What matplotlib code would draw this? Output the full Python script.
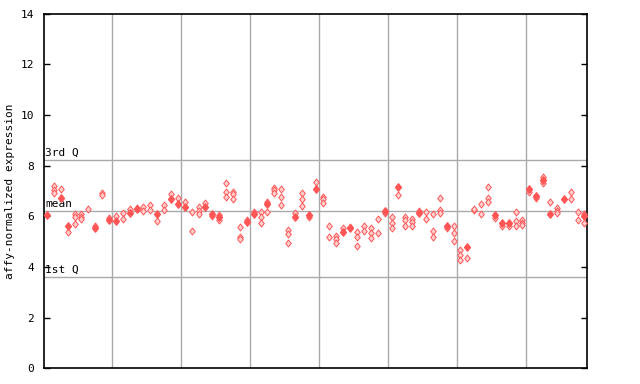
import matplotlib
matplotlib.use("Agg")
import matplotlib.pyplot as plt
from matplotlib.path import Path
import numpy as np

# one column per sample
filled_vals = [6.05, None, 6.74, 5.63, None, None, None, 5.55, None, 5.86,
               5.83, None, 6.14, 6.30, None, None, 6.09, None, 6.70, 6.49,
               6.35, None, None, 6.36, 6.10, 5.99, None, None, None, 5.76,
               6.09, None, 6.49, None, None, None, 5.99, None, 6.05, 7.09,
               None, None, None, 5.39, 5.53, None, None, None, None, 6.21,
               None, 7.17, None, None, 6.12, None, None, None, 5.62, None,
               None, 4.80, None, None, None, 6.05, 5.75, 5.75, None, None,
               7.09, 6.80, 7.44, 6.09, None, 6.70, None, None, 6.01]

hollow_vals = [[], [7.20, 7.02, 6.93], [7.07], [5.37], [6.09, 5.99, 5.70],
               [6.09, 5.99, 5.88], [6.29], [5.63], [6.93, 6.84], [5.95],
               [6.01], [6.12, 5.91], [6.28], [6.34], [6.36, 6.23],
               [6.44, 6.26], [5.80], [6.44, 6.25], [6.88], [6.71],
               [6.57], [6.17, 5.43], [6.37, 6.22, 6.09], [6.52], [6.00],
               [6.07, 5.86], [7.30, 6.97, 6.78], [6.97, 6.87, 6.68], [5.57, 5.17, 5.09], [5.86],
               [6.18], [6.18, 5.99, 5.72], [6.58, 6.18], [7.13, 7.04, 6.93], [7.06, 6.75, 6.45],
               [5.46, 5.29, 4.93], [6.12], [6.91, 6.70, 6.41], [5.96], [7.34],
               [6.78, 6.67, 6.51], [5.62, 5.17], [5.22, 5.10, 4.93], [5.53], [5.59],
               [5.39, 5.20, 4.84], [5.62, 5.43], [5.53, 5.33, 5.14], [5.89, 5.33], [6.14],
               [5.96, 5.75, 5.53], [6.84], [5.96, 5.85, 5.62], [5.88, 5.79, 5.62], [6.20],
               [6.18, 5.88], [6.09, 5.42, 5.17], [6.71, 6.25, 6.14], [5.53], [5.62, 5.33, 5.03],
               [4.67, 4.46, 4.28], [4.34], [6.25, 6.30], [6.49, 6.09], [7.16, 6.71, 6.56],
               [5.92], [5.62], [5.62], [6.16, 5.82, 5.62], [5.86, 5.75, 5.66],
               [6.97], [6.74], [7.57, 7.30], [6.55], [6.32, 6.22, 6.14],
               [], [6.97, 6.67], [6.16, 5.86], [6.08, 5.75]]

q1, mean_val, q3 = 3.59, 6.20, 8.21
group_edges = [9.5, 19.5, 29.5, 39.5, 49.5, 59.5, 69.5]
yticks = [0, 2, 4, 6, 8, 10, 12, 14]

mono = "DejaVu Sans Mono"
red = "#ff5555"

# taller-than-wide diamond like the original pixel markers
diamond = Path([(0, 1), (0.8, 0), (0, -1), (-0.8, 0), (0, 1)],
               [Path.MOVETO, Path.LINETO, Path.LINETO, Path.LINETO, Path.CLOSEPOLY])

fig = plt.figure(figsize=(6.4, 3.84), dpi=100)
ax = fig.add_axes([44 / 640, 1 - 368.3 / 384, (587.3 - 44) / 640, (368.3 - 13.7) / 384])

for e in group_edges:
    ax.axvline(e, color="#aaaaaa", lw=1.0, zorder=1)
for v in (q1, mean_val, q3):
    ax.axhline(v, color="#aaaaaa", lw=1.0, zorder=1)

hx, hy = [], []
for i, vals in enumerate(hollow_vals):
    for v in vals:
        hx.append(i)
        hy.append(v)
ax.plot(hx, hy, linestyle="none", marker=diamond, markersize=5,
        markerfacecolor="#ffd0d0", markeredgecolor=red, markeredgewidth=0.7, zorder=3)

fx = [i for i, v in enumerate(filled_vals) if v is not None]
fy = [v for v in filled_vals if v is not None]
ax.plot(fx, fy, linestyle="none", marker=diamond, markersize=5.3,
        color=red, zorder=4)

ax.set_xlim(-0.44, 78.42)
ax.set_ylim(0, 14)
ax.set_yticks(yticks)
ax.set_yticklabels([str(t) for t in yticks], fontfamily=mono, fontsize=8)
ax.set_xticks([])
ax.tick_params(axis="y", direction="in", length=4, width=1, right=True, pad=7)
for s in ax.spines.values():
    s.set_linewidth(1.2)

ax.text(0.002, q3 + 0.1, "3rd Q", fontfamily=mono, fontsize=8, transform=ax.get_yaxis_transform(), va="bottom")
ax.text(0.002, mean_val + 0.1, "mean", fontfamily=mono, fontsize=8, transform=ax.get_yaxis_transform(), va="bottom")
ax.text(0.002, q1 + 0.1, "1st Q", fontfamily=mono, fontsize=8, transform=ax.get_yaxis_transform(), va="bottom")

fig.text(10 / 640, 1 - 191 / 384, "affy-normalized expression", fontfamily=mono, fontsize=8,
         rotation=90, ha="center", va="center")

fig.savefig("out.png", dpi=100)
